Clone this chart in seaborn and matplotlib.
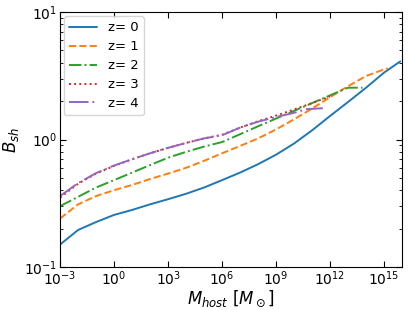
import numpy as np
import pandas as pd
import matplotlib
matplotlib.use("Agg")
import matplotlib.pyplot as plt
import matplotlib.ticker as mticker
import seaborn as sns

# log10 of host mass and B_sh
logm_z0 = [-3, -2, -1, 0, 1, 2, 3, 4, 5, 6, 7, 8, 9, 10, 11, 12, 13, 14, 15, 15.9]
bsh_z0 = [0.150, 0.195, 0.225, 0.256, 0.28, 0.31, 0.34, 0.375, 0.42, 0.48,
          0.55, 0.64, 0.76, 0.93, 1.18, 1.53, 1.97, 2.55, 3.35, 4.1]

logm_z1 = [-3, -2, -1, 0, 1, 2, 3, 4, 5, 6, 7, 8, 9, 10, 11, 12, 13, 14, 15, 15.2]
bsh_z1 = [0.24, 0.31, 0.36, 0.40, 0.44, 0.49, 0.54, 0.60, 0.68, 0.78,
          0.89, 1.02, 1.20, 1.44, 1.75, 2.15, 2.62, 3.15, 3.55, 3.62]

logm_z2 = [-3, -2, -1, 0, 1, 2, 3, 4, 5, 6, 7, 8, 9, 10, 11, 12, 13, 13.8]
bsh_z2 = [0.30, 0.355, 0.42, 0.48, 0.55, 0.63, 0.72, 0.80, 0.88, 0.955,
          1.10, 1.27, 1.46, 1.68, 1.93, 2.22, 2.55, 2.55]

logm_z3 = [-3, -2, -1, 0, 1, 2, 3, 4, 5, 6, 7, 8, 9, 10, 11, 12]
bsh_z3 = [0.35, 0.45, 0.54, 0.62, 0.70, 0.78, 0.86, 0.94, 1.02, 1.09,
          1.24, 1.39, 1.54, 1.72, 1.93, 2.18]

logm_z4 = [-3, -2, -1, 0, 1, 2, 3, 4, 5, 6, 7, 8, 9, 10, 10.7, 11.6]
bsh_z4 = [0.36, 0.455, 0.545, 0.625, 0.70, 0.78, 0.86, 0.94, 1.02, 1.08,
          1.24, 1.38, 1.50, 1.62, 1.73, 1.76]

series = [("z= 0", logm_z0, bsh_z0), ("z= 1", logm_z1, bsh_z1),
          ("z= 2", logm_z2, bsh_z2), ("z= 3", logm_z3, bsh_z3),
          ("z= 4", logm_z4, bsh_z4)]
styles = ["-", "--", "-.", ":", (0, (10, 2, 1, 2))]
colors = sns.color_palette("tab10")

sns.set_style("ticks", {"xtick.direction": "in", "ytick.direction": "in",
                        "axes.edgecolor": "black", "text.color": "black",
                        "axes.labelcolor": "black", "xtick.color": "black",
                        "ytick.color": "black"})
plt.rcParams["font.family"] = ["DejaVu Sans"]

fig = plt.figure(figsize=(4.09, 3.10), dpi=100)
ax = fig.add_axes([0.147, 0.139, 0.836, 0.822])

for i, (lab, lm, b) in enumerate(series):
    df = pd.DataFrame({"M": 10.0 ** np.array(lm), "B": b})
    sns.lineplot(data=df, x="M", y="B", ax=ax, color=colors[i],
                 linestyle=styles[i], label=lab, linewidth=1.4)

ax.set_xscale("log")
ax.set_yscale("log")
ax.set_xlim(1e-3, 1e16)
ax.set_ylim(0.1, 10)
ax.set_xticks(10.0 ** np.arange(-3, 16, 3))
ax.xaxis.set_minor_locator(mticker.NullLocator())
ax.tick_params(which="both", direction="in", top=True, right=True, labelsize=10)
ax.tick_params(axis="x", pad=2)
ax.tick_params(axis="y", pad=2)
ax.tick_params(which="major", length=4)
ax.tick_params(which="minor", length=2)
ax.set_xlabel(r"$M_{host}\ [M_\odot]$", fontsize=12, labelpad=0)
ax.set_ylabel(r"$B_{sh}$", fontsize=12, labelpad=2)
ax.legend(loc="upper left", fontsize=9.5, labelspacing=0.45, handlelength=2.1,
          borderaxespad=0.3)

fig.savefig("out.png", dpi=100)
